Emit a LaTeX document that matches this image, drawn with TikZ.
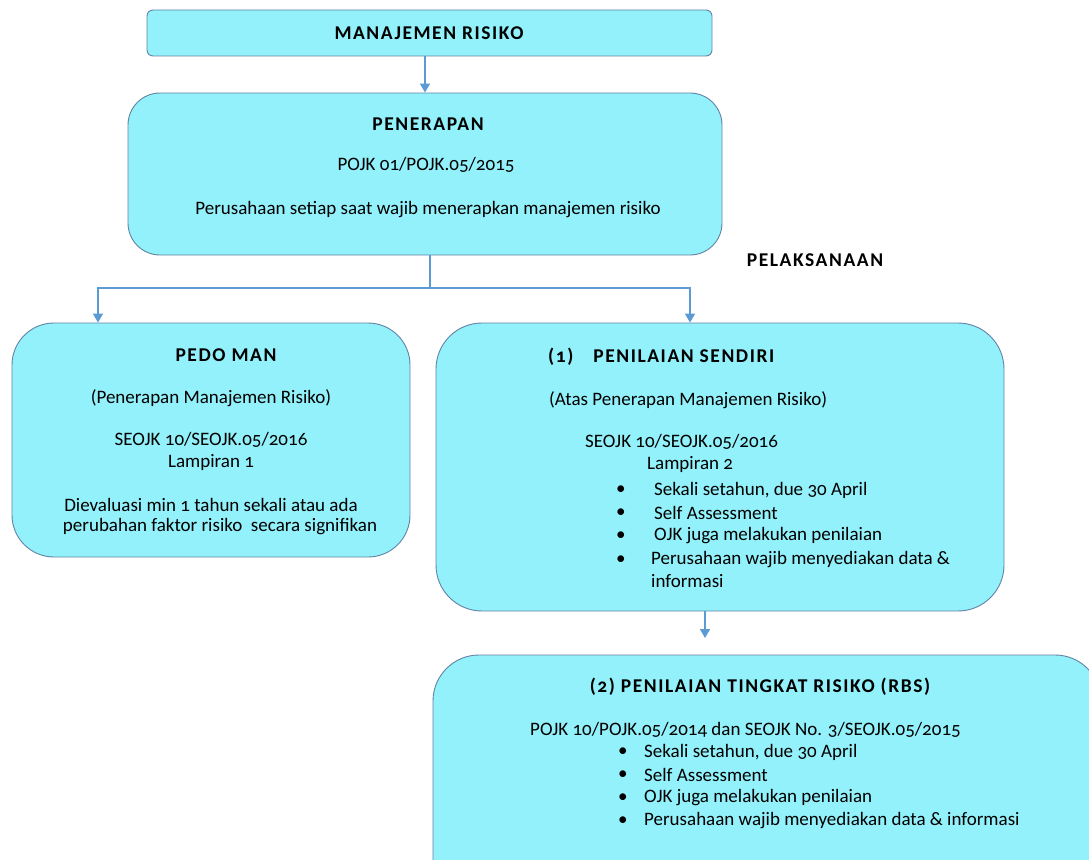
\documentclass[tikz,border=0pt]{standalone}
\usepackage{fontspec}
\setmainfont{Carlito}[Numbers=OldStyle]
\newfontfamily\ttlfont{Carlito}[LetterSpace=8,Numbers=OldStyle]
\usetikzlibrary{arrows.meta}
\definecolor{boxfill}{HTML}{92F1FA}
\definecolor{boxline}{HTML}{6283A3}
\definecolor{arr}{HTML}{5B9BD5}
\begin{document}
\begin{tikzpicture}[x=1pt,y=-1pt,
  box/.style={draw=boxline, fill=boxfill, line width=0.9pt, inner sep=0pt},
  lbl/.style={inner sep=0pt, font=\fontsize{19}{22}\selectfont},
  lblw/.style={lbl, anchor=west},
  ttl/.style={inner sep=0pt, font=\ttlfont\fontsize{19.5}{22}\selectfont\bfseries},
  conn/.style={draw=arr, line width=1.5pt},
  arrowc/.style={conn, -{Triangle[length=9pt,width=10pt]}}]
\useasboundingbox (0,0) rectangle (1089,859);
% boxes
\node[box, rounded corners=6pt, minimum width=565pt, minimum height=46pt] (top) at (429.5,33) {};
\node[box, rounded corners=32pt, minimum width=594pt, minimum height=162pt] (pen) at (425,174) {};
\node[box, rounded corners=42pt, minimum width=398pt, minimum height=234pt] (ped) at (211,440) {};
\node[box, rounded corners=46pt, minimum width=568pt, minimum height=288pt] (sen) at (720,467) {};
\node[box, rounded corners=46pt, minimum width=668pt, minimum height=260pt] (rbs) at (767,785) {};
% connectors
\coordinate (j) at (430,288);
\coordinate (aL) at (98,0);
\coordinate (aR) at (690,0);
\coordinate (aB) at (705,638);
\draw[arrowc] (top.south -| 425,0) -- (pen.north -| 425,0);
\draw[conn] (pen.south -| j) -- (j);
\draw[arrowc] (j) -| (aL |- ped.north);
\draw[arrowc] (j) -| (aR |- sen.north);
\draw[arrowc] (sen.south -| aB) -- (aB);
% texts top
\node[ttl] (t1) at (429,33) {MANAJEMEN RISIKO};
\node[ttl] (t2) at (428,124) {PENERAPAN};
\node[lbl] (t3) at (426,165) {POJK 01/POJK.05/2015};
\node[lbl] (t4) at (428,210) {Perusahaan setiap saat wajib menerapkan manajemen risiko};
\node[ttl] (pel) at (815,260) {PELAKSANAAN};
% pedoman
\node[ttl] (p1) at (226,355) {PEDO\hspace{6pt}MAN};
\node[lbl] (p2) at (211,398) {(Penerapan Manajemen Risiko)};
\node[lbl] (p3) at (211,440) {SEOJK 10/SEOJK.05/2016};
\node[lbl] (p4) at (211,462) {Lampiran 1};
\node[lbl] (p5) at (211,505) {Dievaluasi min 1 tahun sekali atau ada};
\node[lbl] (p6) at (220,527) {perubahan faktor risiko\ \ secara signifikan};
% penilaian sendiri
\node[ttl, anchor=west] (s1) at (548,357) {(1)\hspace{20pt}PENILAIAN SENDIRI};
\node[lblw] (s2) at (549,400) {(Atas Penerapan Manajemen Risiko)};
\node[lblw] (s3) at (585,442) {SEOJK 10/SEOJK.05/2016};
\node[lblw] (s4) at (647,464) {Lampiran 2};
\node[lblw] (sb1) at (616,490) {\textbullet};
\node[lblw] (sb2) at (616,513) {\textbullet};
\node[lblw] (sb3) at (616,536) {\textbullet};
\node[lblw] (sb4) at (616,560) {\textbullet};
\node[lblw] (s5) at (654,490) {Sekali setahun, due 30 April};
\node[lblw] (s6) at (654,513) {Self Assessment};
\node[lblw] (s7) at (654,536) {OJK juga melakukan penilaian};
\node[lblw] (s8) at (651,560) {Perusahaan wajib menyediakan data \&};
\node[lblw] (s9) at (651,581) {informasi};
% RBS
\node[ttl] (r1) at (760,687) {(2) PENILAIAN TINGKAT RISIKO (RBS)};
\node[lblw] (r2) at (530,730) {POJK 10/POJK.05/2014 dan SEOJK No. 3/SEOJK.05/2015};
\node[lblw] (rb1) at (618,752) {\textbullet};
\node[lblw] (rb2) at (618,775) {\textbullet};
\node[lblw] (rb3) at (618,798) {\textbullet};
\node[lblw] (rb4) at (618,821) {\textbullet};
\node[lblw] (r3) at (644,752) {Sekali setahun, due 30 April};
\node[lblw] (r4) at (644,775) {Self Assessment};
\node[lblw] (r5) at (644,798) {OJK juga melakukan penilaian};
\node[lblw] (r6) at (644,821) {Perusahaan wajib menyediakan data \& informasi};
\end{tikzpicture}
\end{document}
